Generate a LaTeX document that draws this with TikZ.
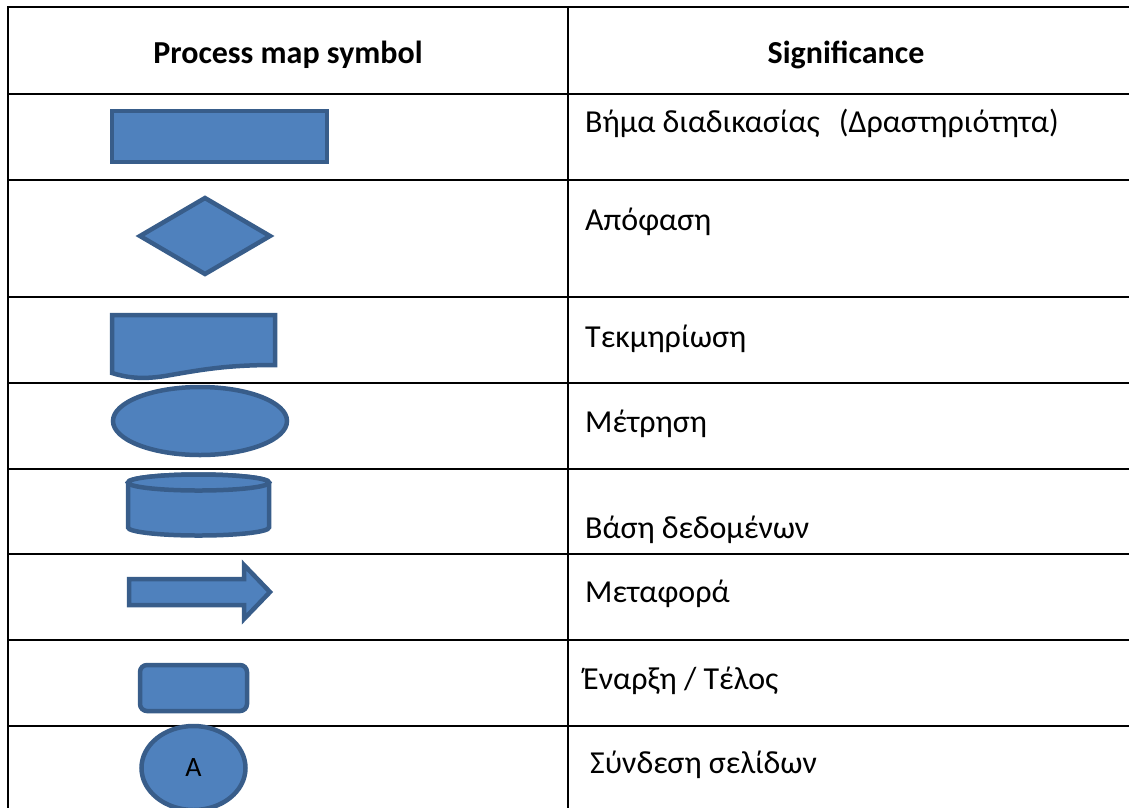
\documentclass[tikz,border=0pt]{standalone}
\usepackage{fontspec}
\setmainfont{Carlito}
\begin{document}
\begin{tikzpicture}[x=1pt,y=-1pt,
  grid/.style={line width=2.7pt,line cap=rect,black},
  sym/.style={fill=symfill,draw=symline,line width=4.5pt,line join=miter},
  head/.style={font=\fontsize{32}{38}\selectfont\bfseries,inner sep=0pt,anchor=base},
  cell/.style={font=\fontsize{32}{38}\selectfont,inner sep=0pt,anchor=base west}]
\definecolor{symfill}{HTML}{4F81BD}
\definecolor{symline}{HTML}{385D8A}
\useasboundingbox (0,0) rectangle (1129,807);

% table rules
\foreach \yy in {7,94,180,297,383,469,554,640,726}
  \draw[grid] (8,\yy) -- (1140,\yy);
\draw[grid] (8,7) -- (8,820);
\draw[grid] (568,7) -- (568,820);

% header
\node[head] (h1) at (288,63) {Process map symbol};
\node[head] (h2) at (846,63) {Significance};

% process step
\filldraw[sym] (112,111) rectangle (327,162);
% decision
\filldraw[sym] (140,236) -- (205,198) -- (270,236) -- (205,274) -- cycle;
% document
\filldraw[sym] (112,315) -- (275,315) -- (275,365)
  .. controls (225,365) and (200,370) .. (165,376)
  .. controls (140,380) and (125,377) .. (112,373) -- cycle;
% measurement
\filldraw[sym] (200,421) ellipse [x radius=87, y radius=34];
% database
\filldraw[sym] (128,482.5) -- (128,527.5)
  arc[start angle=180,end angle=0,x radius=70.5,y radius=8] -- (269,482.5)
  arc[start angle=0,end angle=-180,x radius=70.5,y radius=8] -- cycle;
\filldraw[sym] (198.5,482.5) ellipse [x radius=70.5, y radius=8];
% transport
\filldraw[sym] (129,579) -- (244,579) -- (244,565) -- (270,592)
  -- (244,619) -- (244,605) -- (129,605) -- cycle;
% start / end
\filldraw[sym,rounded corners=7pt] (140,665) rectangle (247,711);
% page connector
\filldraw[sym] (193.5,768) ellipse [x radius=52, y radius=42];
\node[font=\fontsize{28}{32}\selectfont,inner sep=0pt] (conA) at (193.5,768) {A};

% meanings
\node[cell] (t1) at (585,132) {Βήμα διαδικασίας\hspace{19pt}(Δραστηριότητα)};
\node[cell] (t2) at (585,230) {Απόφαση};
\node[cell] (t3) at (585,347) {Τεκμηρίωση};
\node[cell] (t4) at (585,432) {Μέτρηση};
\node[cell] (t5) at (585,538) {Βάση δεδομένων};
\node[cell] (t6) at (585,602) {Μεταφορά};
\node[cell] (t7) at (583,689) {Έναρξη / Τέλος};
\node[cell] (t8) at (590,773) {Σύνδεση σελίδων};
\end{tikzpicture}
\end{document}
